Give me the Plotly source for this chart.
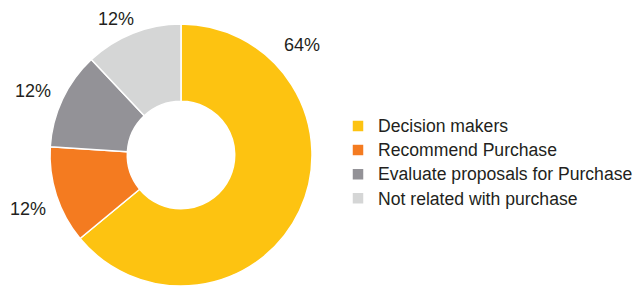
import plotly.graph_objects as go

categories = ["Decision makers", "Recommend Purchase", "Evaluate proposals for Purchase", "Not related with purchase"]
values = [64, 12, 12, 12]
colors = ["#FDC311", "#F47B20", "#939297", "#D5D6D6"]

# The page body adds an 8px margin, so the figure is drawn 8px in from the window corner.
OFF = 8
W, H = 643 - OFF, 286 - OFF
# label positions (window pixels from top-left) for the percent labels
label_pos = [(302, 45), (28, 209), (33, 91), (116, 19)]
cx, cy, r = 181 - OFF, 155 - OFF, 131

legend_labels = [f'<span style="font-size:17.6px">{c}</span>' for c in categories]

fig = go.Figure(go.Pie(
    labels=legend_labels,
    values=values,
    marker=dict(colors=colors, line=dict(color="white", width=1.5)),
    hole=0.41,
    sort=False,
    direction="clockwise",
    rotation=0,
    textinfo="none",
    hoverinfo="label+percent",
    domain=dict(x=[(cx - r) / W, (cx + r) / W],
                y=[max(0, (H - cy - r) / H), min(1, (H - cy + r) / H)]),
))

total = sum(values)
for v, (px, py) in zip(values, label_pos):
    fig.add_annotation(
        x=(px - OFF) / W, y=1 - (py - OFF) / H, xref="paper", yref="paper",
        text=f"{round(100 * v / total)}%", showarrow=False,
        font=dict(size=18, color="#231F20", family="Liberation Sans"),
        xanchor="center", yanchor="middle",
    )

fig.update_layout(
    width=W, height=H,
    margin=dict(l=0, r=0, t=0, b=0, autoexpand=False),
    paper_bgcolor="white", plot_bgcolor="white",
    font=dict(family="Liberation Sans", size=18, color="#231F20"),
    showlegend=True,
    legend=dict(x=(338 - OFF) / W, y=1 - (109 - OFF) / H, xanchor="left", yanchor="top",
                xref="container", yref="container",
                font=dict(size=16.2, color="#231F20"), itemclick=False,
                bgcolor="rgba(0,0,0,0)"),
)

fig.write_html("out.html")
